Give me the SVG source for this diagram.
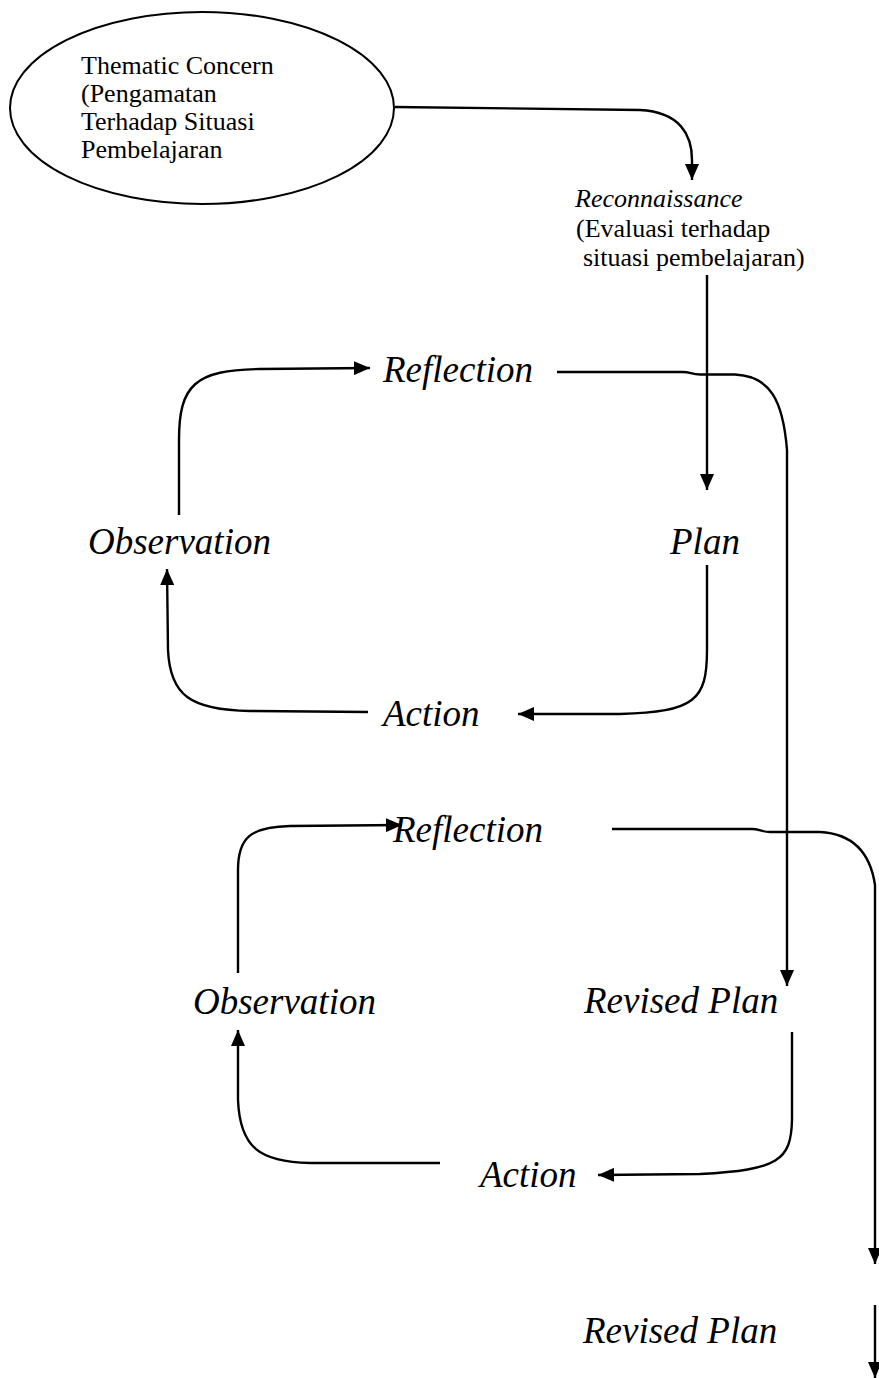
<svg xmlns="http://www.w3.org/2000/svg" width="879" height="1378" viewBox="0 0 879 1378">
<defs>
<style>
.lbl{font-family:"Liberation Serif","Times New Roman",serif;fill:#000}
.big{font-size:37px;font-style:italic}
.sm{font-size:26px}
.con{fill:none;stroke:#000;stroke-width:2.4;stroke-linecap:butt}
</style>
<marker id="ah" viewBox="0 0 16 14" refX="16" refY="7" markerWidth="16" markerHeight="14" markerUnits="userSpaceOnUse" orient="auto">
<path d="M0 0 L16 7 L0 14 z" fill="#000"/>
</marker>
</defs>
<rect width="879" height="1378" fill="#fff"/>
<g id="connectors">
<path class="con" d="M395 107 L640 110 C680 112 692 135 692 160 L692 180" marker-end="url(#ah)"/>
<path class="con" d="M707 275 L707 490" marker-end="url(#ah)"/>
<path class="con" d="M179 515 L179 440 C179 385 195 370 260 369 L370 368" marker-end="url(#ah)"/>
<path class="con" d="M707 565 L707 650 C707 700 695 712 620 714 L518 714" marker-end="url(#ah)"/>
<path class="con" d="M368 712 L250 711 C190 710 170 695 168 650 L167 569" marker-end="url(#ah)"/>
<path class="con" d="M557 372 L683 372 C690 372 692 374.5 700 374.5 L735 374.5 C770 376 783 400 787 450 L787 986" marker-end="url(#ah)"/>
<path class="con" d="M238 973 L238 870 C238 838 250 827 290 826 L402 825" marker-end="url(#ah)"/>
<path class="con" d="M612 829 L752 829 C759 829 762 832 770 832 L820 832 C858 834 871 858 875 885 L875 1264" marker-end="url(#ah)"/>
<path class="con" d="M792 1032 L792 1120 C791 1160 779 1170 700 1174 L598 1175" marker-end="url(#ah)"/>
<path class="con" d="M440 1163 L310 1163 C260 1162 240 1148 238 1100 L238 1030" marker-end="url(#ah)"/>
<path class="con" d="M875 1305 L875 1378" marker-end="url(#ah)"/>
</g>
<g id="thematic">
<ellipse cx="202" cy="108" rx="192" ry="96" fill="#fff" stroke="#000" stroke-width="2"/>
<text class="lbl sm" x="81" y="74">Thematic Concern</text>
<text class="lbl sm" x="81" y="102">(Pengamatan</text>
<text class="lbl sm" x="81" y="130">Terhadap Situasi</text>
<text class="lbl sm" x="81" y="158">Pembelajaran</text>
</g>
<g id="reconnaissance">
<text class="lbl sm" x="575" y="207" font-style="italic">Reconnaissance</text>
<text class="lbl sm" x="576" y="237">(Evaluasi terhadap</text>
<text class="lbl sm" x="583" y="266">situasi pembelajaran)</text>
</g>
<g id="reflection1"><text class="lbl big" x="383" y="382">Reflection</text></g>
<g id="observation1"><text class="lbl big" x="88" y="554">Observation</text></g>
<g id="plan1"><text class="lbl big" x="670" y="554">Plan</text></g>
<g id="action1"><text class="lbl big" x="383" y="726">Action</text></g>
<g id="reflection2"><text class="lbl big" x="393" y="842">Reflection</text></g>
<g id="observation2"><text class="lbl big" x="193" y="1014">Observation</text></g>
<g id="revisedplan1"><text class="lbl big" x="584" y="1013">Revised Plan</text></g>
<g id="action2"><text class="lbl big" x="480" y="1187">Action</text></g>
<g id="revisedplan2"><text class="lbl big" x="583" y="1343">Revised Plan</text></g>
</svg>
